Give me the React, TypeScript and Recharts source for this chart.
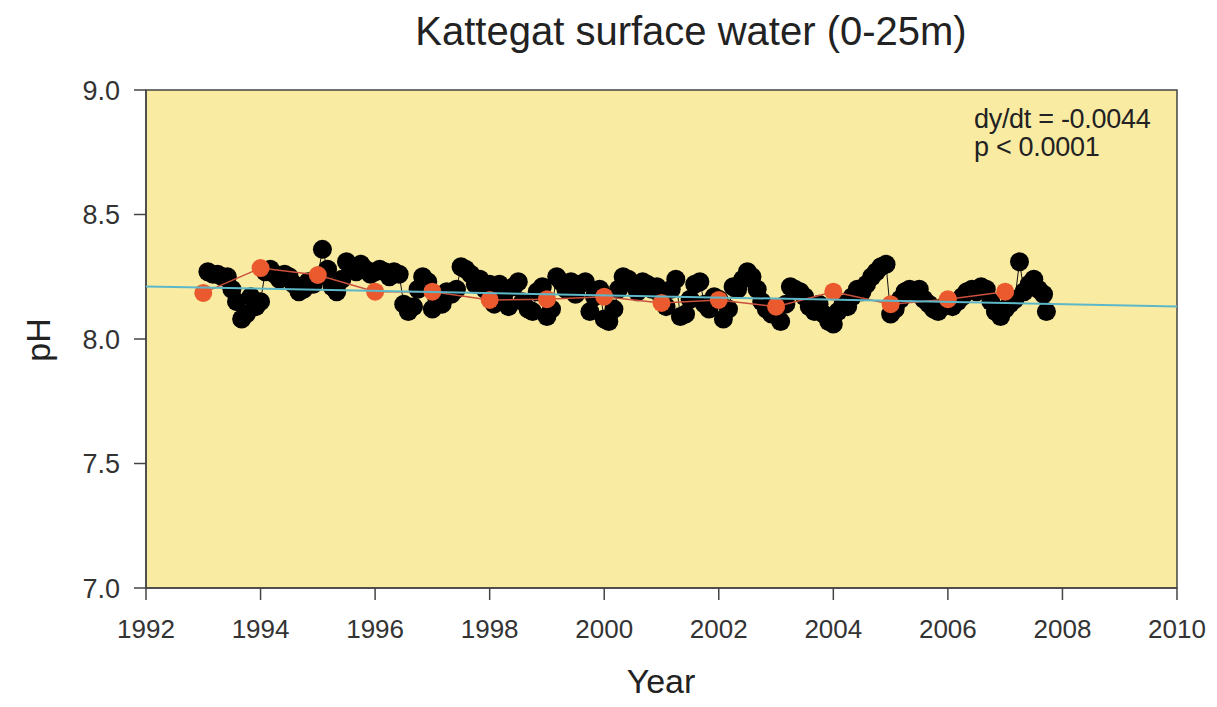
import React from 'react';
import {
  ComposedChart, Scatter, XAxis, YAxis, ReferenceArea,
} from 'recharts';

// sampling dates (decimal year) and surface pH, Kattegat 0-25 m
const sampleYears = [
  1993.08, 1993.17, 1993.25, 1993.33, 1993.42, 1993.5, 1993.58, 1993.67, 1993.75, 1993.83, 1993.92, 1994.0,
  1994.08, 1994.17, 1994.25, 1994.33, 1994.42, 1994.5, 1994.58, 1994.67, 1994.75, 1994.83, 1994.92, 1995.0,
  1995.08, 1995.17, 1995.25, 1995.33, 1995.42, 1995.5, 1995.58, 1995.67, 1995.75, 1995.83, 1995.92, 1996.0,
  1996.08, 1996.17, 1996.25, 1996.33, 1996.42, 1996.5, 1996.58, 1996.67, 1996.75, 1996.83, 1996.92, 1997.0,
  1997.08, 1997.17, 1997.25, 1997.33, 1997.42, 1997.5, 1997.58, 1997.67, 1997.75, 1997.83, 1997.92, 1998.0,
  1998.08, 1998.17, 1998.25, 1998.33, 1998.42, 1998.5, 1998.58, 1998.67, 1998.75, 1998.83, 1998.92, 1999.0,
  1999.08, 1999.17, 1999.25, 1999.33, 1999.42, 1999.5, 1999.58, 1999.67, 1999.75, 1999.83, 1999.92, 2000.0,
  2000.08, 2000.17, 2000.25, 2000.33, 2000.42, 2000.5, 2000.58, 2000.67, 2000.75, 2000.83, 2000.92, 2001.0,
  2001.08, 2001.17, 2001.25, 2001.33, 2001.42, 2001.5, 2001.58, 2001.67, 2001.75, 2001.83, 2001.92, 2002.0,
  2002.08, 2002.17, 2002.25, 2002.33, 2002.42, 2002.5, 2002.58, 2002.67, 2002.75, 2002.83, 2002.92, 2003.0,
  2003.08, 2003.17, 2003.25, 2003.33, 2003.42, 2003.5, 2003.58, 2003.67, 2003.75, 2003.83, 2003.92, 2004.0,
  2004.08, 2004.17, 2004.25, 2004.33, 2004.42, 2004.5, 2004.58, 2004.67, 2004.75, 2004.83, 2004.92, 2005.0,
  2005.08, 2005.17, 2005.25, 2005.33, 2005.42, 2005.5, 2005.58, 2005.67, 2005.75, 2005.83, 2005.92, 2006.0,
  2006.08, 2006.17, 2006.25, 2006.33, 2006.42, 2006.5, 2006.58, 2006.67, 2006.75, 2006.83, 2006.92, 2007.0,
  2007.08, 2007.17, 2007.25, 2007.33, 2007.42, 2007.5, 2007.58, 2007.67, 2007.72,
];

const samplePh = [
  8.27, 8.26, 8.26, 8.25, 8.25, 8.2, 8.15, 8.08, 8.1, 8.17, 8.13, 8.15,
  8.27, 8.28, 8.26, 8.24, 8.26, 8.25, 8.22, 8.19, 8.2, 8.23, 8.22, 8.25,
  8.36, 8.28, 8.21, 8.19, 8.24, 8.31, 8.29, 8.27, 8.3, 8.28, 8.26, 8.27,
  8.28, 8.27, 8.25, 8.27, 8.26, 8.14, 8.11, 8.13, 8.2, 8.25, 8.23, 8.12,
  8.16, 8.14, 8.19, 8.18, 8.2, 8.29, 8.28, 8.26, 8.22, 8.24, 8.2, 8.22,
  8.14, 8.22, 8.18, 8.13, 8.21, 8.23, 8.15, 8.12, 8.11, 8.19, 8.21, 8.09,
  8.12, 8.25, 8.23, 8.2, 8.23, 8.18, 8.22, 8.23, 8.11, 8.17, 8.2, 8.08,
  8.07, 8.12, 8.2, 8.25, 8.24, 8.22, 8.19, 8.23, 8.22, 8.2, 8.21, 8.17,
  8.13, 8.2, 8.24, 8.09, 8.1, 8.16, 8.22, 8.23, 8.14, 8.12, 8.17, 8.16,
  8.08, 8.12, 8.21, 8.2, 8.24, 8.27, 8.25, 8.2, 8.15, 8.12, 8.1, 8.11,
  8.07, 8.14, 8.21, 8.2, 8.19, 8.17, 8.13, 8.11, 8.14, 8.1, 8.07, 8.06,
  8.11, 8.14, 8.13, 8.17, 8.2, 8.19, 8.22, 8.25, 8.27, 8.29, 8.3, 8.1,
  8.12, 8.16, 8.19, 8.2, 8.19, 8.2, 8.16, 8.14, 8.12, 8.11, 8.13, 8.15,
  8.13, 8.15, 8.17, 8.19, 8.2, 8.19, 8.21, 8.2, 8.15, 8.11, 8.09, 8.12,
  8.14, 8.16, 8.31, 8.19, 8.22, 8.24, 8.2, 8.18, 8.11,
];

// annual means
const meanYears = [1993, 1994, 1995, 1996, 1997, 1998, 1999, 2000, 2001, 2002, 2003, 2004, 2005, 2006, 2007];
const meanPh = [8.185, 8.285, 8.257, 8.19, 8.19, 8.157, 8.16, 8.17, 8.145, 8.157, 8.13, 8.19, 8.14, 8.16, 8.19];

// linear trend, dy/dt = -0.0044
const trendYears = [1992, 2010];
const trendPh = [8.211, 8.131];

const yearTicks = [1992, 1994, 1996, 1998, 2000, 2002, 2004, 2006, 2008, 2010];
const phTicks = [7, 7.5, 8, 8.5, 9];

const samples = sampleYears.map((t, i) => ({ t, ph: samplePh[i] }));
const means = meanYears.map((t, i) => ({ t, ph: meanPh[i] }));
const trend = trendYears.map((t, i) => ({ t, ph: trendPh[i] }));

const FONT = '"Liberation Sans", Arial, sans-serif';

const dot = (r: number, fill: string) => (props: any) => {
  const { cx, cy } = props;
  if (cx == null || cy == null) return <g />;
  return <circle cx={cx} cy={cy} r={r} fill={fill} />;
};

export default function App() {
  return (
    <div style={{
      position: 'relative', width: 1200, height: 690,
      fontFamily: FONT, background: '#fff',
    }}>
      <div style={{
        position: 'absolute', left: 283, width: 800, top: 3, textAlign: 'center',
        fontSize: 40, lineHeight: 1, color: '#222', whiteSpace: 'nowrap',
      }}>
        Kattegat surface water (0-25m)
      </div>

      <ComposedChart
        width={1200}
        height={690}
        margin={{ top: 82, right: 31, bottom: 30, left: 8 }}
        style={{ fontFamily: FONT }}
      >
        <XAxis
          type="number"
          dataKey="t"
          domain={[1992, 2010]}
          ticks={yearTicks}
          allowDataOverflow
          height={80}
          tickSize={12}
          tickMargin={20}
          tick={{ fill: '#333', fontSize: 26 }}
          axisLine={{ stroke: '#444', strokeWidth: 1.5 }}
          tickLine={{ stroke: '#444', strokeWidth: 1.5 }}
        />
        <YAxis
          type="number"
          dataKey="ph"
          domain={[7, 9]}
          ticks={phTicks}
          allowDataOverflow
          width={130}
          tickSize={12}
          tickMargin={14}
          tickFormatter={(v: number) => v.toFixed(1)}
          tick={{ fill: '#333', fontSize: 27 }}
          axisLine={{ stroke: '#444', strokeWidth: 1.5 }}
          tickLine={{ stroke: '#444', strokeWidth: 1.5 }}
        />
        <ReferenceArea
          x1={1992} x2={2010} y1={7} y2={9}
          fill="#faeba2" fillOpacity={1}
          stroke="#444" strokeWidth={1.5}
        />
        <Scatter
          data={samples}
          line={{ stroke: '#111', strokeWidth: 1 }}
          lineType="joint"
          shape={dot(9.5, '#000')}
          isAnimationActive={false}
        />
        <Scatter
          data={means}
          line={{ stroke: '#c8503c', strokeWidth: 1.5 }}
          lineType="joint"
          shape={dot(9, '#ea5a2e')}
          isAnimationActive={false}
        />
        <Scatter
          data={trend}
          line={{ stroke: '#5cb8c8', strokeWidth: 2 }}
          lineType="joint"
          shape={() => <g />}
          isAnimationActive={false}
        />
      </ComposedChart>

      <div style={{
        position: 'absolute', left: 966, top: 97, fontSize: 27, lineHeight: '28px', color: '#222',
        letterSpacing: -0.3,
      }}>
        <div>dy/dt = -0.0044</div>
        <div>p &lt; 0.0001</div>
      </div>

      <div style={{
        position: 'absolute', left: 603, width: 100, top: 657, height: 32, textAlign: 'center',
        fontSize: 34, lineHeight: '32px', color: '#222',
      }}>
        Year
      </div>

      <div style={{
        position: 'absolute', left: 30, top: 332, width: 0, height: 0,
      }}>
        <div style={{
          position: 'absolute', transform: 'translate(-50%, -50%) rotate(-90deg)',
          fontSize: 34, lineHeight: 1, color: '#222', whiteSpace: 'nowrap',
        }}>
          pH
        </div>
      </div>
    </div>
  );
}
